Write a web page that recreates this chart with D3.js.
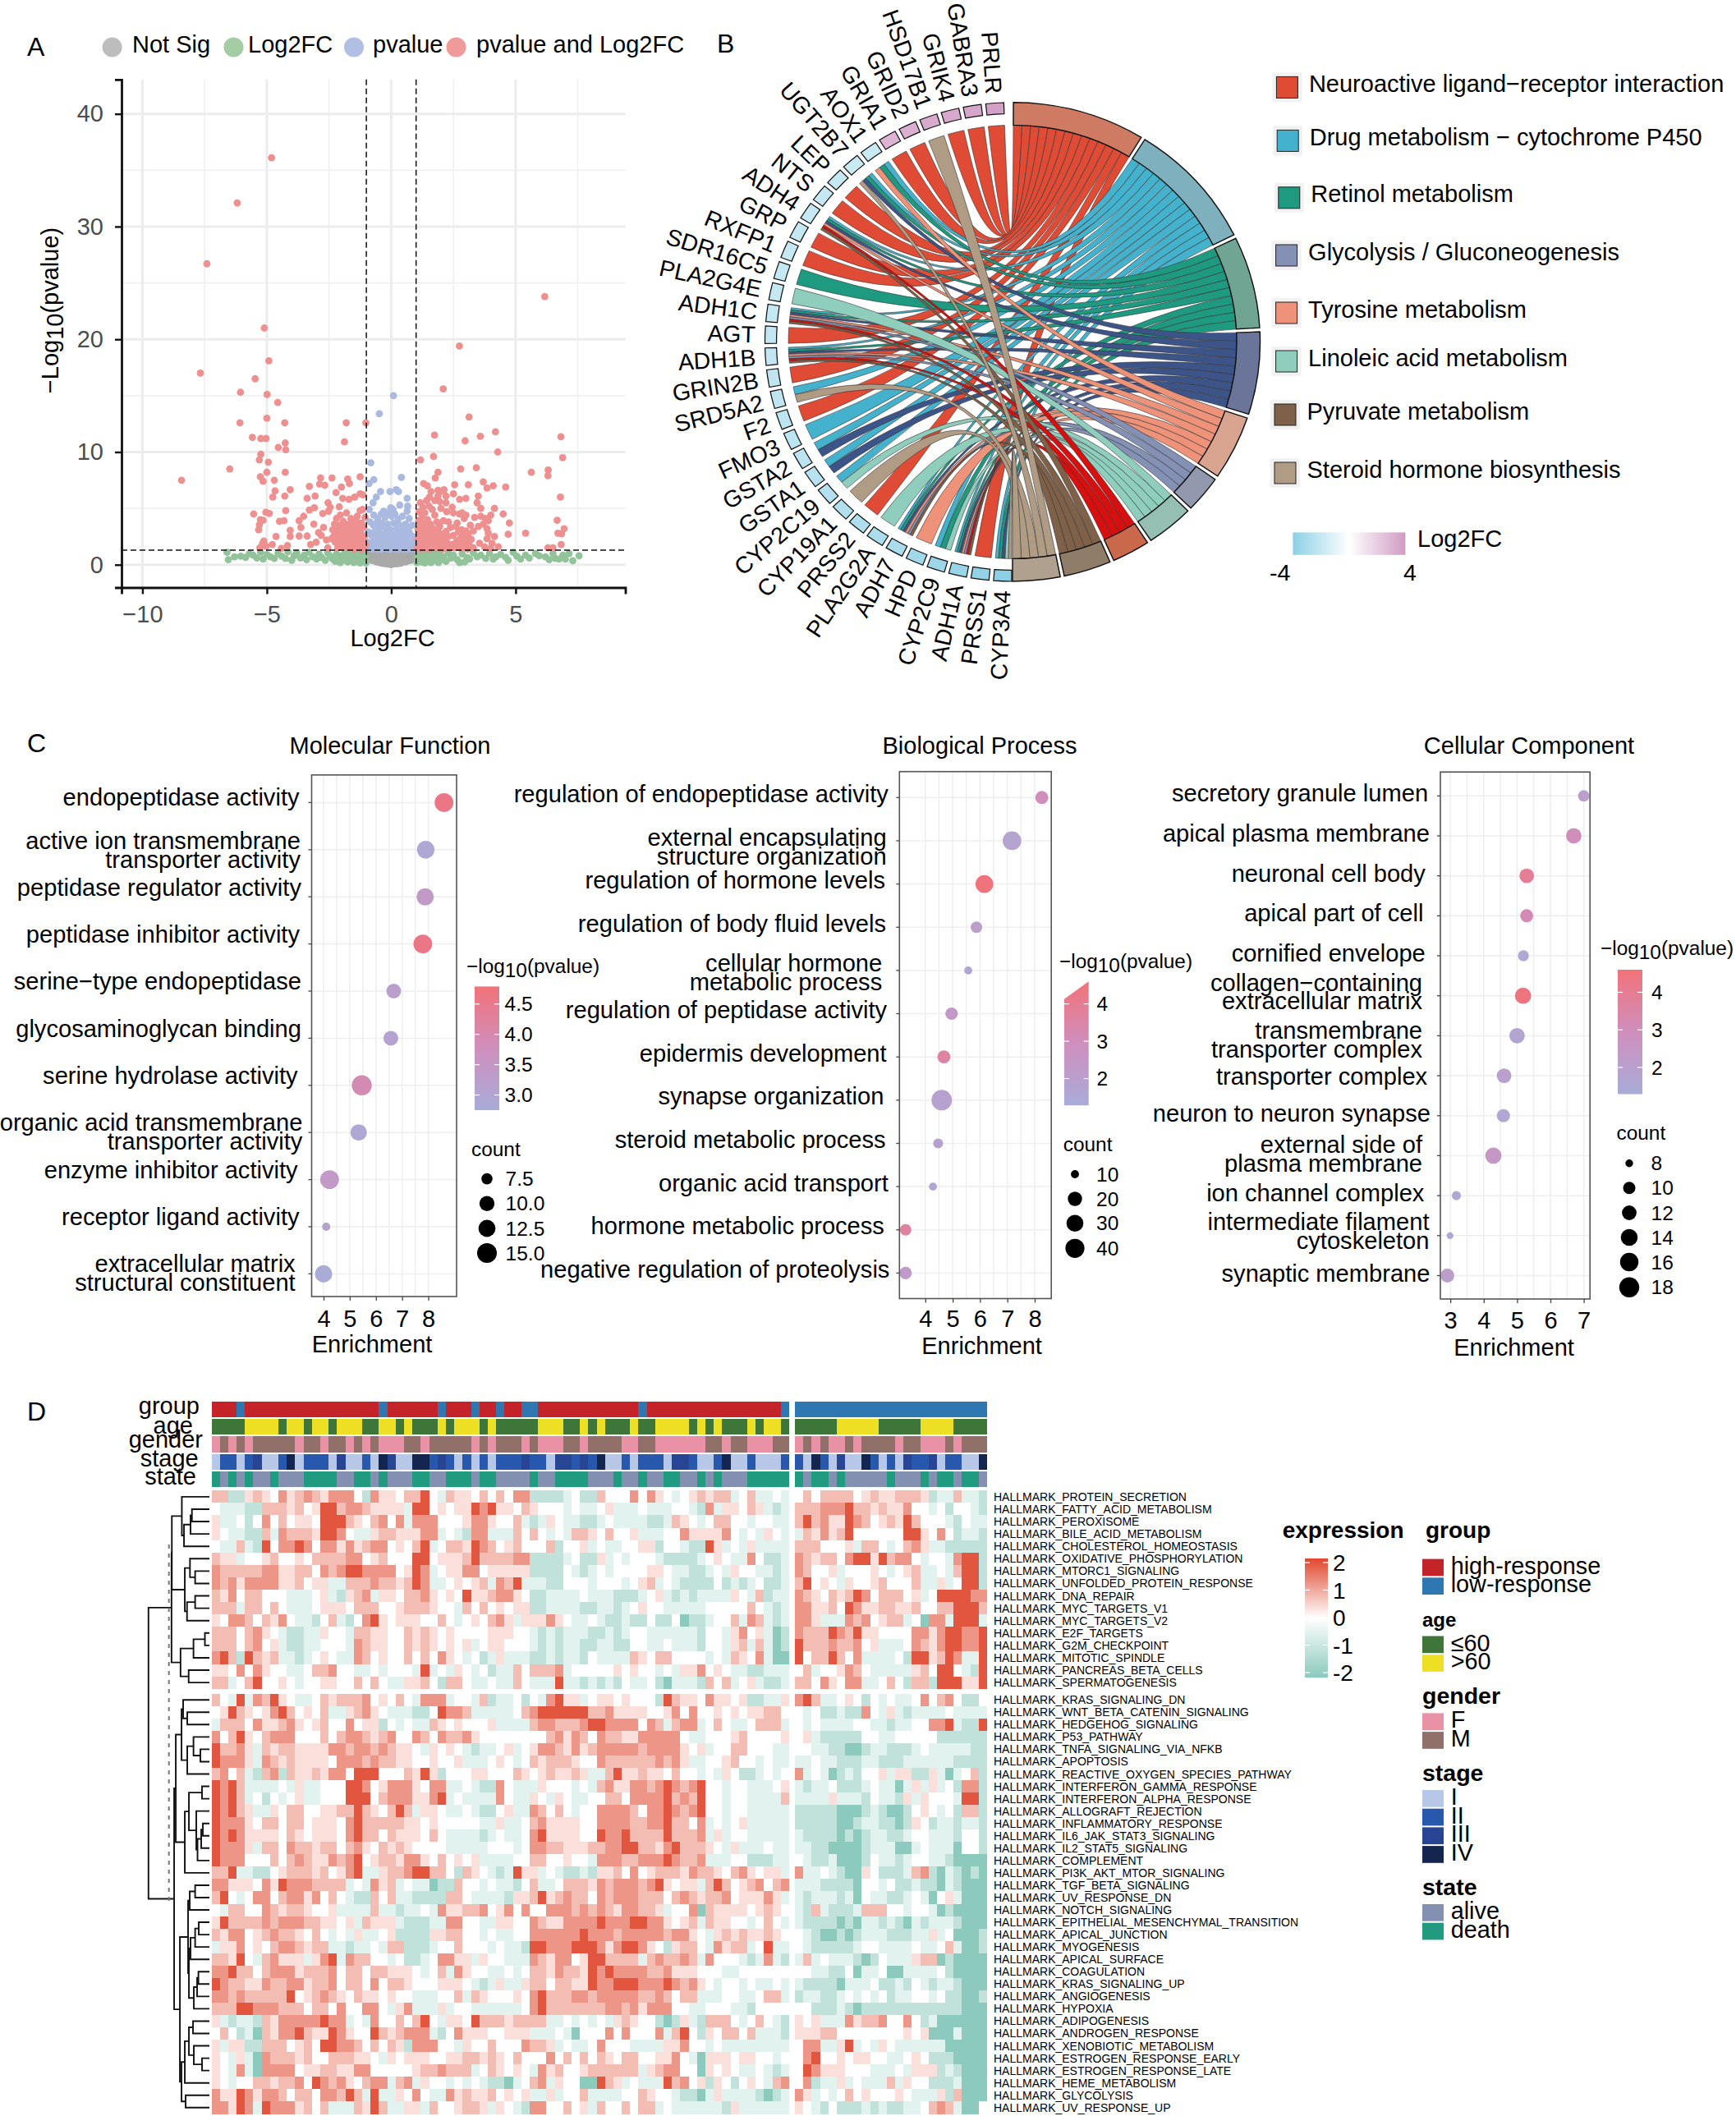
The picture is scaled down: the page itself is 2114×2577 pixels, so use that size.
<!DOCTYPE html>
<html>
<head>
<meta charset="utf-8">
<script src="https://cdn.jsdelivr.net/npm/d3@7"></script>
<style>
body { margin:0; background:#fff; }
text { font-family:"Liberation Sans",Arial,sans-serif; fill:#000; }
</style>
</head>
<body>
<svg id="fig" width="2114" height="2577"></svg>
<script>
// ---------- panel A data: [log2fc, -log10 p]
var volcanoRed=[[-4.81,36.1],[-6.19,32.1],[-7.41,26.7],[6.17,23.8],[-5.1,21],[2.74,19.4],[-4.92,18.1],[-7.67,17],[-5.47,16.5],[2.09,15.6],[-6.06,15.3],[-4.99,15.1],[-4.56,14.4],[3.13,13.1],[-5,13],[-6.08,12.6],[-4.28,12.6],[-1.81,12.6],[-1.02,12.6],[4.19,11.8],[1.74,11.5],[6.82,11.35],[3.58,11.4],[-5.58,11.3],[-5.24,11.2],[-5.03,11.2],[2.97,11],[-4.26,10.8],[-1.88,10.9],[-4.54,10.4],[-4.24,10.2],[4.28,10],[-5.24,9.8],[1.7,9.6],[6.89,9.5],[1.18,9.3],[-5.3,9.3],[-4.94,9.1],[-6.49,8.5],[2.79,8.5],[3.42,8.6],[6.31,8.4],[-5,8.2],[-4.26,8.2],[1.88,8.2],[5.63,8.2],[6.3,7.9],[-8.43,7.5],[-5.26,7.8],[-4.7,7.5],[-5.15,7.4],[-2.84,7.7],[-2.38,7.7],[-1.75,7.6],[-1.25,7.8],[1.77,7.7],
[-3.29,6.95],[-2.88,7.15],[-2.67,7.05],[-2.22,6.4],[-2,6.9],[-1.68,7.2],[-4.06,6.65],[-4.67,6.55],[-4.28,6.1],[-4.76,6],[-3.38,5.9],[-3.06,6.1],[-2.54,5.5],[-1.95,5.9],[-1.7,5.8],[-1.47,6],[-1.25,6.3],[-1.14,6.2],[-5.53,4.5],[-5.04,4.65],[-4.9,4.55],[-4.24,4.8],[-5.26,4],[-5.15,3.95],[-4.49,3.85],[-4.31,3.9],[-5.3,3.55],[-5.33,3.1],[-3.7,3.9],[-3.52,4.3],[-3.29,4.85],[-3.09,5.05],[-2.75,4.55],[-2.45,5.1],[-2.52,4.75],[-2.09,5.15],[-4.06,3.05],[-3.63,3.3],[-3.11,3.6],[-3.7,2.55],[-3.38,2.55],[-4.63,2.5],[-4.06,2.5],[-2.92,2.85],[-2.81,2.6],[-3.24,1.8],[-3.02,2],[-5.12,2.1],[-5.17,1.9],[-5.03,1.65],[-4.78,1.8],[-5.28,1.5],[-4.42,1.45],[-4.17,1.7],[-2.6,2.2],[-2.72,3.3],[-2.55,1.5],
[-2.35,3.1],[-2.3,2.6],[-2.28,3.6],[-2.25,2],[-2.2,4.1],[-2.18,3],[-2.15,2.4],[-2.12,1.7],[-2.1,3.5],[-2.08,2.85],[-2.05,4.4],[-2.03,2.2],[-2,3.15],[-1.97,1.55],[-1.95,2.65],[-1.93,3.85],[-1.9,2.05],[-1.88,3.3],[-1.85,1.8],[-1.83,2.5],[-1.8,4.6],[-1.78,3],[-1.75,2.25],[-1.72,1.5],[-1.7,3.6],[-1.68,2.75],[-1.65,1.95],[-1.62,4.1],[-1.6,3.2],[-1.57,2.4],[-1.55,1.65],[-1.52,2.95],[-1.5,4],[-1.47,2.15],[-1.45,3.5],[-1.42,1.45],[-1.4,2.6],[-1.37,4.3],[-1.35,1.9],[-1.32,3.1],[-1.3,2.35],[-1.27,1.6],[-1.25,4.8],[-1.22,2.8],[-1.2,3.7],[-1.18,2.05],[-1.15,4.9],[-1.12,1.5],[-1.1,3.35],[-1.08,2.5],[-1.05,4.2],[-1.03,1.8],[-2.4,2.3],[-2.25,2.9],[-2.15,1.5],[-2,2.5],[-1.9,1.6],[-1.8,3.5],[-1.65,3.3],[-1.5,1.4],[-1.38,3.8],[-1.25,3.3],[-1.2,1.35],
[1.05,1.5],[1.07,2.3],[1.08,3.1],[1.1,3.9],[1.12,4.7],[1.13,1.9],[1.15,2.7],[1.17,5.5],[1.18,3.5],[1.2,1.4],[1.22,2.2],[1.24,4.3],[1.25,3],[1.27,5.1],[1.28,1.7],[1.3,2.5],[1.32,3.7],[1.34,1.45],[1.35,4.6],[1.37,2.9],[1.38,2.05],[1.4,3.3],[1.42,5.7],[1.44,1.6],[1.46,4],[1.48,2.4],[1.5,3.1],[1.52,1.4],[1.54,6],[1.55,2.1],[1.57,3.6],[1.6,2.75],[1.62,1.55],[1.65,4.9],[1.68,2.3],[1.7,3.2],[1.72,1.8],[1.75,4.4],[1.78,2.6],[1.8,1.45],[1.83,3.8],[1.85,2.1],[1.88,6.1],[1.9,2.9],[1.92,1.6],[1.95,3.4],[1.98,2.3],[2,5],[2.03,1.85],[2.05,2.7],[2.08,1.4],[2.1,3.9],[2.13,2.2],[2.16,1.65],[2.2,2.95],[2.23,4.7],[2.26,1.9],[2.3,2.5],[2.34,1.45],[2.38,3.3],
[2.45,1.8],[2.5,2.6],[2.55,1.5],[2.6,3.4],[2.63,2.1],[2.67,1.65],[2.7,2.9],[2.74,4.5],[2.77,2.3],[2.8,1.45],[2.83,3.1],[2.86,1.9],[2.9,2.55],[2.93,4.1],[2.96,1.55],[3,3],[3.03,2.15],[3.07,1.4],[3.1,2.7],[3.14,1.75],[3.18,3.5],[3.22,2.25],[3.3,1.5],[1.3,7.2],[1.45,7],[1.6,6.5],[1.88,6.6],[1.98,6.5],[2.12,6.65],[2.2,5.5],[2.5,6.3],[2.55,7.1],[2.75,5.8],[3.0,5.9],[3.1,7.1],[3.5,6.1],[3.7,7.35],[3.85,6.8],[4.1,7],[4.6,6.9],[2.2,6.1],[2.85,4.6],[3.0,4.4],[3.35,4.2],[3.45,5.5],[3.6,5],[3.6,4.3],[3.78,4.1],[3.9,3.9],[4,4.4],[4.15,5],[4.5,4.5],[4.75,3.7],[3.5,3.4],[3.7,3.6],[3.85,3.2],[3.9,2.8],[4.15,2.5],[4.05,1.9],[3.85,2.3],[3.55,1.9],[3.75,1.6],[4.0,1.45],[4.3,1.6],[4.7,2.7],[5.4,2.8],[6.67,3.95],[6.95,3.2],[6.7,2.8],[6.85,2.75],[6.83,1.8],[6.3,1.5],[6.5,1.5],[6.8,6],[2.45,5.1],[2.3,3.8],[2.5,4.6],[2.65,3.7],[3.3,3.0],[1.52,5.2],[1.75,5.7],[1.95,5.6]];
var volcanoBlue=[[0.09,15],[-0.48,13.4],[-0.82,9.05],[0.41,7.75],[-0.7,7.55],[-0.89,7.2],[0.2,6.65],[-0.05,6.5],[-0.43,6.5],[0.29,6.5],[-0.6,6],[-0.73,5.5],[0.64,5.9],[0.34,5.3],[0.66,5.2],[-0.02,5.05],[0.07,4.9],[-0.3,4.75],[0.64,4.75],[-0.88,4.9],[-0.7,4.4],[-0.55,4.1],[-0.4,4.5],[-0.25,4.2],[-0.12,4.6],[0.02,4.3],[0.15,4.5],[0.28,4.05],[0.45,4.3],[0.72,4.1],[-0.85,3.8],[-0.72,3.5],[-0.62,3.6],[-0.5,3.2],[-0.38,3.7],[-0.27,3.3],[-0.15,3.6],[-0.03,3.1],[0.1,3.7],[0.22,3.2],[0.33,3.5],[0.46,3.1],[0.57,3.6],[0.7,3.2],[0.85,3.5],[-0.92,2.9],[-0.8,2.6],[-0.68,2.9],[-0.57,2.5],[-0.46,2.8],[-0.34,2.4],[-0.22,2.8],[-0.1,2.4],[0.03,2.7],[0.14,2.35],[0.26,2.75],[0.38,2.4],[0.5,2.8],[0.62,2.45],[0.74,2.8],[0.88,2.5],[-0.94,2],[-0.82,1.75],[-0.7,2.1],[-0.6,1.7],[-0.48,2],[-0.36,1.65],[-0.25,2],[-0.13,1.7],[0,2],[0.12,1.7],[0.24,2],[0.36,1.7],[0.47,2.05],[0.6,1.7],[0.72,2],[0.84,1.75],[0.95,2],[-0.9,1.45],[-0.75,1.4],[-0.55,1.4],[-0.4,1.38],[-0.2,1.42],[-0.05,1.38],[0.15,1.42],[0.3,1.38],[0.5,1.4],[0.65,1.38],[0.82,1.42],[0.95,1.4]];
var volcanoGreen=[[-6.6,1.1],[-6.55,0.45],[-6.3,0.7],[-6.05,0.75],[-5.85,0.65],[-5.7,1],[-5.55,0.85],[-5.4,0.6],[-5.25,1.1],[-5.15,0.5],[-5,0.9],[-4.85,0.7],[-4.7,0.55],[-4.55,1],[-4.4,0.75],[-4.25,0.55],[-4.15,1.15],[-4,0.4],[-3.9,0.8],[-3.8,1.05],[-3.65,0.6],[-3.5,0.85],[-3.4,0.45],[-3.3,1.1],[-3.15,0.7],[-3,0.5],[-2.9,0.95],[-2.8,0.65],[-2.65,0.4],[-2.55,1.05],[-2.45,0.75],[-2.35,0.5],[-2.25,0.3],[-2.2,0.95],[-2.12,0.6],[-2.05,0.2],[-2,0.8],[-1.92,0.4],[-1.85,1.1],[-1.8,0.6],[-1.75,0.25],[-1.68,0.9],[-1.62,0.45],[-1.55,0.7],[-1.5,0.2],[-1.45,1.05],[-1.4,0.55],[-1.35,0.3],[-1.3,0.85],[-1.25,0.15],[-1.2,0.6],[-1.15,1.15],[-1.1,0.35],[-1.05,0.8],[-1.02,0.15],
[1.03,0.2],[1.05,0.75],[1.1,0.4],[1.15,1.1],[1.2,0.25],[1.25,0.6],[1.3,0.9],[1.35,0.15],[1.4,0.45],[1.45,1],[1.5,0.3],[1.55,0.7],[1.6,0.2],[1.65,0.5],[1.7,1.1],[1.75,0.35],[1.8,0.8],[1.85,0.55],[1.9,0.2],[1.95,0.95],[2,0.45],[2.1,0.7],[2.2,0.3],[2.3,1.05],[2.4,0.6],[2.5,0.85],[2.65,0.45],[2.75,0.2],[2.85,0.95],[2.95,0.25],[3.05,0.65],[3.15,0.5],[3.3,1.05],[3.45,0.7],[3.6,0.85],[3.8,0.55],[3.95,1],[4.1,0.5],[4.2,0.7],[4.4,0.9],[4.6,0.65],[4.7,0.4],[4.9,1.1],[5.05,0.75],[5.2,0.5],[5.4,0.85],[5.55,0.6],[5.8,1],[5.95,0.8],[6.2,0.7],[6.35,0.45],[6.5,1],[6.6,0.55],[6.75,0.5],[6.9,0.85],[7,0.5],[7.15,1],[7.3,0.35],[7.55,0.8]];
var volcanoGrey=[[-0.98,0.6],[-0.95,1.1],[-0.92,0.8],[-0.88,0.5],[-0.85,1],[-0.82,0.7],[-0.78,0.4],[-0.75,1.15],[-0.72,0.8],[-0.68,0.35],[-0.65,0.6],[-0.62,1],[-0.58,0.25],[-0.55,0.75],[-0.52,0.45],[-0.48,1.1],[-0.45,0.2],[-0.42,0.6],[-0.38,0.9],[-0.35,0.12],[-0.32,0.4],[-0.28,0.75],[-0.25,1.15],[-0.22,0.08],[-0.18,0.5],[-0.15,0.9],[-0.12,0.25],[-0.08,0.05],[-0.05,0.65],[-0.02,1.05],[0,0.02],[0.02,0.35],[0.05,0.8],[0.08,0.06],[0.12,0.5],[0.15,1.1],[0.18,0.2],[0.22,0.08],[0.25,0.7],[0.28,0.4],[0.32,1],[0.35,0.12],[0.38,0.55],[0.42,0.2],[0.45,0.85],[0.48,1.15],[0.52,0.3],[0.55,0.7],[0.58,0.25],[0.62,1],[0.65,0.45],[0.68,0.35],[0.72,0.8],[0.75,1.1],[0.78,0.4],[0.82,0.7],[0.85,1],[0.88,0.5],[0.92,0.85],[0.95,1.12],[0.98,0.6]];
var volcanoLegend=["Not Sig","Log2FC","pvalue","pvalue and Log2FC"];
var volcanoXTicks=[-10,-5,0,5];
var volcanoYTicks=[0,10,20,30,40];

// ---------- panel B data
var pathwayNames=["Neuroactive ligand\u2212receptor interaction","Drug metabolism \u2212 cytochrome P450","Retinol metabolism","Glycolysis / Gluconeogenesis","Tyrosine metabolism","Linoleic acid metabolism","Pyruvate metabolism","Steroid hormone biosynthesis"];
// clockwise from the bottom of the circle
var geneNames=["CYP3A4","PRSS1","ADH1A","CYP2C9","HPD","ADH7","PLA2G2A","PRSS2","CYP19A1","CYP2C19","GSTA1","GSTA2","FMO3","F2","SRD5A2","GRIN2B","ADH1B","AGT","ADH1C","PLA2G4E","SDR16C5","RXFP1","GRP","ADH4","NTS","LEP","UGT2B7","AOX1","GRIA1","GRID2","HSD17B1","GRIK4","GABRA3","PRLR"];
var geneLog2FC=[-4,-3.8,-3.6,-3.5,-3.3,-3,-2.9,-2.8,-2.7,-2.6,-2.5,-2.4,-2.3,-2.3,-2.2,-2.2,-2.1,-2.1,-2,-2,-2,-2,-2,-2,-2,-2,-1.9,-1.9,3,3.2,3.4,3.5,3.6,3.8];
// which ring segments each gene links to (0-9, ring order clockwise from the top)
var geneLinks=[[1,2,3,6,9],[0],[1,2,3,4,5,7,8],[1,2,6],[4],[1,2,3,4,5,8],[6],[0],[9],[1,6],[1,3],[1,3],[1],[0],[1,9],[0],[1,2,3,4,5,7,8],[0],[1,2,3,4,5,7,8],[6],[2],[0],[0],[1,2,3,4,7,8],[0],[0],[1,2,3,9],[1,2,4],[0],[0],[9],[0],[0],[0]];
var ringFill=["#e04b35","#45b2cd","#1d9a80","#3c5488","#ee937a","#8491b4","#8fcdbd","#d80f0f","#7e6148","#b09c85"];
var ringShade=["#cf7a62","#7fb0be","#6fa592","#6b7499","#d9a48f","#9298ad","#95bfb2","#c9684a","#8f7c69","#b0a08e"];
var legendRingIndex=[0,1,2,5,4,6,8,9];

// ---------- panel C data
var mfTerms=["endopeptidase activity","active ion transmembrane\ntransporter activity","peptidase regulator activity","peptidase inhibitor activity","serine\u2212type endopeptidase","glycosaminoglycan binding","serine hydrolase activity","organic acid transmembrane\ntransporter activity","enzyme inhibitor activity","receptor ligand activity","extracellular matrix\nstructural constituent"];
var mfEnrich=[8.6,7.9,7.88,7.79,6.68,6.57,5.46,5.34,4.23,4.1,4.0];
var mfCount=[14.1,13,12.7,14.1,9.8,9.8,15.3,11.7,14.1,5.6,12.7];
var mfLogP=[4.6,2.9,3.4,4.6,3.2,3.05,3.9,2.9,3.4,3.1,2.8];
var bpTerms=["regulation of endopeptidase activity","external encapsulating\nstructure organization","regulation of hormone levels","regulation of body fluid levels","cellular hormone\nmetabolic process","regulation of peptidase activity","epidermis development","synapse organization","steroid metabolic process","organic acid transport","hormone metabolic process","negative regulation of proteolysis"];
var bpEnrich=[8.26,7.17,6.16,5.87,5.57,4.96,4.68,4.6,4.47,4.28,3.28,3.28];
var bpCount=[18,38,34,15.5,10,17,18,47,13,10,15.5,17];
var bpLogP=[3,1.8,4.5,2.1,1.7,2.4,3.6,1.9,1.9,1.7,3.7,2.3];
var ccTerms=["secretory granule lumen","apical plasma membrane","neuronal cell body","apical part of cell","cornified envelope","collagen\u2212containing\nextracellular matrix","transmembrane\ntransporter complex","transporter complex","neuron to neuron synapse","external side of\nplasma membrane","ion channel complex","intermediate filament\ncytoskeleton","synaptic membrane"];
var ccEnrich=[7,6.7,5.29,5.29,5.19,5.18,5,4.61,4.59,4.29,3.18,2.99,2.91];
var ccCount=[9.6,12.7,12,10.7,9.4,13.4,12.7,12,10.7,13.4,8.6,7.6,11.3];
var ccLogP=[2,3,3.9,3.2,1.6,4.5,1.7,2,1.6,2.5,1.6,1.6,2.1];

// ---------- panel D data
var heatTerms=["PROTEIN_SECRETION","FATTY_ACID_METABOLISM","PEROXISOME","BILE_ACID_METABOLISM","CHOLESTEROL_HOMEOSTASIS","OXIDATIVE_PHOSPHORYLATION","MTORC1_SIGNALING","UNFOLDED_PROTEIN_RESPONSE","DNA_REPAIR","MYC_TARGETS_V1","MYC_TARGETS_V2","E2F_TARGETS","G2M_CHECKPOINT","MITOTIC_SPINDLE","PANCREAS_BETA_CELLS","SPERMATOGENESIS","KRAS_SIGNALING_DN","WNT_BETA_CATENIN_SIGNALING","HEDGEHOG_SIGNALING","P53_PATHWAY","TNFA_SIGNALING_VIA_NFKB","APOPTOSIS","REACTIVE_OXYGEN_SPECIES_PATHWAY","INTERFERON_GAMMA_RESPONSE","INTERFERON_ALPHA_RESPONSE","ALLOGRAFT_REJECTION","INFLAMMATORY_RESPONSE","IL6_JAK_STAT3_SIGNALING","IL2_STAT5_SIGNALING","COMPLEMENT","PI3K_AKT_MTOR_SIGNALING","TGF_BETA_SIGNALING","UV_RESPONSE_DN","NOTCH_SIGNALING","EPITHELIAL_MESENCHYMAL_TRANSITION","APICAL_JUNCTION","MYOGENESIS","APICAL_SURFACE","COAGULATION","KRAS_SIGNALING_UP","ANGIOGENESIS","HYPOXIA","ADIPOGENESIS","ANDROGEN_RESPONSE","XENOBIOTIC_METABOLISM","ESTROGEN_RESPONSE_EARLY","ESTROGEN_RESPONSE_LATE","HEME_METABOLISM","GLYCOLYSIS","UV_RESPONSE_UP"];
// one digit per cell, 69 left samples | 23 right samples; digit meaning in heatLevels
var heatRows=[
"6622565475 6765777427 5546684365 5464647722 2234226444 7475434565 663463343|4646666456 5566652336 332",
"4333226665 6458867765 5553884545 5878554654 4434334533 3433344327 355465323|6667778665 6557443424 432",
"5334247464 5548886546 7473777444 5775446323 5433223433 3322365434 664434433|6867558764 5658644432 433",
"5433226376 6658874335 6655577343 2773336464 3436654644 5333447555 574343543|3657568444 4448854742 332",
"4336328477 8747757567 7454683466 5876456444 6244534334 4552443228 534353333|6664445366 4346753322 222",
"6553445644 5466667745 6444884555 6866667722 2234225343 4443222234 543374223|7656647885 8677434437 882",
"7666667755 6647678877 7745873455 7745555522 2243234344 4455433223 435443323|7644534445 4345633436 882",
"7675777755 6455336667 6656873345 4563768333 2244434443 4563432222 423234223|6845435445 6444633534 882",
"6574664443 3345325673 5546675454 8556775422 3333433322 2345323233 335436233|7654656874 6664534888 877",
"6663664643 3345554666 4456665443 6464545522 3333223323 4544333334 444464323|7755648755 6655644668 886",
"5477646574 3324632478 5455544643 4546753555 7543343223 2242241223 446376323|7753337674 5663417738 883",
"6664675432 2335443665 5446565454 4445554432 3233322323 4433333324 435745312|7666876855 4444775788 778",
"6664674532 2334443765 5446565454 5345544432 3233223322 4433433324 435636312|8666766745 3334765788 778",
"7862865633 2345433764 5446464754 3423533322 3233243333 6546644443 436547311|8466864733 3342885687 338",
"5547475443 3466744334 3444383435 4342336466 6734444454 5443435574 543322333|4634457643 3333564884 328",
"6634684454 3445544646 4335564266 4334336433 3833232324 3342133326 463453223|6647547733 4642662888 558",
"6438376854 3346566674 5464377734 4362334243 7855345545 4442865547 554522335|7863345424 3433474674 224",
"4586545786 4546335675 4333224877 6333334678 8888866755 5544574744 545455664|4342232274 3532333343 333",
"3666475567 5456447455 2434336545 4445333367 7666788777 7476367734 643346663|4343333443 3233447783 228",
"7468546777 4446467765 6744764766 7544444444 6757647665 5777774334 445644445|4532222244 3344444222 222",
"8667536566 5555776776 7655435454 3233453457 7657567777 7677775453 446644433|4433221123 3222343333 322",
"8777537656 5555477767 6655445445 3334543465 6665447666 6667675334 456443433|3343322233 2223333332 222",
"6746326726 5565774888 4446585244 4554446545 6556533685 5655464434 354223434|7343123244 5355225313 462",
"8786333343 5334448874 5777547733 4322743335 4443436755 7767876784 434433345|3233422234 3313535342 772",
"8786342434 5334448884 6777557834 3333743354 3543344664 7777867684 434433336|3333533324 3325354443 882",
"8786533546 6445566865 4686355433 4322453376 4643447777 6477876784 434433333|2222211123 2112454342 662",
"8777546646 6455547866 6665545444 4433533467 5555447777 6677866473 434533333|2222211233 2212542332 332",
"8787555546 5455547866 4655546433 3323433478 5555448778 6666866673 534433333|3222212123 3223443332 442",
"8777536647 6656646754 6565444433 3334443477 6655566778 8665786665 435333433|3322111123 3311343331 442",
"8777444646 7655767845 6657754645 4533334466 4454437776 6777876673 334422233|4322311124 3323443321 111",
"6683322456 6656457833 5667886642 6543238553 4322325564 7456665766 546754553|7334321154 2223672132 121",
"7755547587 7766663437 5634331226 4434332463 3466657677 7678545536 864567467|3332222144 3422322132 111",
"6843477467 7574643226 4633222266 4333325568 5676647677 7666467656 674555753|3233323143 3223431453 111",
"4366447656 6544533336 3323343755 6674574744 7776767657 7665344716 555545654|3263222366 6443443121 111",
"5866667677 7665545365 5532223377 4433554476 5577778777 8877545636 554434643|3222212133 2321323332 111",
"6577456766 5464343533 4522225566 4434334477 7777877767 7777677543 565655654|4321121233 3222335341 112",
"3557454677 6566332334 3662223446 4443433288 7778887578 8754256643 756634833|4322222344 3333433463 112",
"6658436755 5357837664 4342234775 5354433376 5774588666 6367667637 444323732|3634333212 4333566121 111",
"7786646777 5666746646 6555434637 5443343466 5766587877 7766755544 433444444|4433224133 4113333421 111",
"8766557667 7566746647 4665444555 4323533566 4665587788 8777876754 344343343|3222213334 2232432332 111",
"7767666668 4567654655 4544333446 3654445478 6667767777 7667646633 344334663|2332234343 4233443422 112",
"6668877766 6466474477 4357333534 4333333478 6666666776 7577744334 443324444|4422232122 2222222222 111",
"5323326577 7778773437 4464684355 4866656666 3343434356 5442125326 664346432|5453337566 7447423111 111",
"4642316577 8655875448 6567773247 5554455533 3431444747 4447368425 466463332|5556644444 4445451113 111",
"5355226664 5648877646 4652777443 5446444766 5343347444 3333557443 433333333|4773358343 5433333311 111",
"5435317666 5644666554 3545554455 6656546444 7464646546 6445574315 554554434|4784454554 4334542221 111",
"5437317777 4556655774 4444566766 6346545437 5644566666 6356774415 454334323|4875554443 3343555232 111",
"5434466566 7487675467 7367354434 3432213467 3544118653 4333867452 542454367|4723353433 3635442223 111",
"7558757764 6647768638 3354743375 6556454533 5344633334 4654432213 533332123|7534346454 4454333526 111",
"7758738777 5646333658 6335536445 6653543277 4464536446 4663433333 325333333|5432422232 3223346763 114"
];
var heatLevels=[-2,-2,-1.1,-0.5,0,0.35,0.72,1.15,1.85];
// annotation tracks, one letter per sample
var trackNames=["group","age","gender","stage","state"];
var trackRows=[
"HHHLHHHHHH HHHHHHHHHH LHHHHHHLHH HLHHLHHLLH HHHHHHHHHH HLHHHHHHHH HHHHHHHHL|LLLLLLLLLL LLLLLLLLLL LLL",
"GGGGYYYYGY YGYYGYYYGG YYGYGGGYGY YYGYGGGGGY YYGGYGYGGG YGGYYYYGYG YGGGYGYYG|GGGGGYYYYY GGGGGYYYYG GGG",
"FMFMFMMMMM FMMFMMFMFM FFFMMFMMMM MFMFMMMFMF FFMMFMMMMF FMMFFFFFFM MFMMFFFMM|FMFMFFMFMM MMFMMFFFMF MMM",
"1221231124 1222131121 4311442321 2121222322 1332324112 1222133211 241121112|2142131142 1213223122 114",
"DADADAADAA ADDDDAADDA DAAADDAADD DADDAAAADA ADDDDAAADA ADAADDAADA DAAADDDDD|DADDADAAAA ADAAADADDA DDA"
];
var trackColors={H:"#c42429",L:"#2e77b0",G:"#3e7538",Y:"#ede024",F:"#e991a5",M:"#907068","1":"#b6c7e8","2":"#2858ad","3":"#274592","4":"#14264f",A:"#8390b2",D:"#209b80"};
var legendGroups=[
 {title:"group",keys:[["high-response","H"],["low-response","L"]]},
 {title:"age",keys:[["\u226460","G"],[">60","Y"]]},
 {title:"gender",keys:[["F","F"],["M","M"]]},
 {title:"stage",keys:[["I","1"],["II","2"],["III","3"],["IV","4"]]},
 {title:"state",keys:[["alive","A"],["death","D"]]}
];
// row dendrogram, node = [height, left, right], leaf = row number
var treeUpper=[45.8,[33.6,0,[31,[23,[21.3,1,2],3],4]],[30,[23.7,5,[17.4,6,7]],[27.3,[17.4,8,9],10]]];
var treeBlockA=[46.2,treeUpper,[35.2,[19.4,[5.5,11,12],13],[25.3,14,15]]];
var treeSubA=[41,[34,[32,16,[27,17,18]],[27,[19.4,19,[11,20,21]],22]],[30,[25,[9,23,24],[16,25,[14.5,[10,[8,26,27],28],29]]],30]];
var treeSubB=[26,[24,[17.4,31,32],33],[25,[23,[17.4,[13,34,35],36],37],[19,[15,[13.4,38,39],40],41]]];
var treeSubC=[34,[30,[25,[20,42,43],[19,44,[9,45,46]]],47],[29,48,49]];
var treeBlockB=[43,treeSubA,[36,treeSubB,treeSubC]];
var treeRoot=[74.3,treeBlockA,treeBlockB];

// ---------- helpers
var svg=d3.select("#fig");
var defs=svg.append("defs");
function addText(g,x,y,t,size,opts) {
  opts=opts||{};
  return g.append("text").attr("x",x).attr("y",y).text(t)
    .style("font-size",size+"px")
    .style("font-weight",opts.bold?"bold":null)
    .style("fill",opts.fill||null)
    .attr("text-anchor",opts.anchor||"start");
}
function addGradient(id,colors,vertical) {
  var gr=defs.append("linearGradient").attr("id",id)
    .attr("x1",0).attr("y1",vertical?1:0).attr("x2",vertical?0:1).attr("y2",0);
  colors.forEach(function(c,i){ gr.append("stop").attr("offset",i/(colors.length-1)).attr("stop-color",c); });
}
function logTitle(g,x,y,size,word) {
  var t=g.append("text").attr("x",x).attr("y",y).style("font-size",size+"px");
  t.append("tspan").text(word);
  t.append("tspan").attr("dy",size*0.22).text("10");
  t.append("tspan").attr("dy",-size*0.22).text("(pvalue)");
  return t;
}

addText(svg,33,68,"A",32);
addText(svg,873,64,"B",32);
addText(svg,33,916,"C",32);
addText(svg,33,1730,"D",32);

// ---------- A: volcano
function drawVolcano() {
  var g=svg.append("g");
  var x=d3.scaleLinear().domain([-10.84,9.41]).range([148,761.5]);
  var y=d3.scaleLinear().domain([-2.02,43.05]).range([715.5,96.8]);
  [-7.5,-2.5,2.5,7.5].forEach(function(v){
    g.append("line").attr("x1",x(v)).attr("x2",x(v)).attr("y1",96.8).attr("y2",715.5).attr("stroke","#f0f0f0").attr("stroke-width",1.6);
  });
  [5,15,25,35].forEach(function(v){
    g.append("line").attr("y1",y(v)).attr("y2",y(v)).attr("x1",148).attr("x2",761.5).attr("stroke","#f0f0f0").attr("stroke-width",1.6);
  });
  volcanoXTicks.forEach(function(v){
    g.append("line").attr("x1",x(v)).attr("x2",x(v)).attr("y1",96.8).attr("y2",715.5).attr("stroke","#ececec").attr("stroke-width",3);
  });
  volcanoYTicks.forEach(function(v){
    g.append("line").attr("y1",y(v)).attr("y2",y(v)).attr("x1",148).attr("x2",761.5).attr("stroke","#ececec").attr("stroke-width",3);
  });
  function dots(data,c) {
    g.append("g").selectAll("circle").data(data).enter().append("circle")
      .attr("cx",function(d){return x(d[0]);}).attr("cy",function(d){return y(d[1]);})
      .attr("r",4.4).attr("fill",c);
  }
  dots(volcanoGrey,"#a9a9a9");
  dots(volcanoGreen,"#92c39a");
  dots(volcanoBlue,"#aab9df");
  dots(volcanoRed,"#ee9090");
  [-1,1].forEach(function(v){
    g.append("line").attr("x1",x(v)).attr("x2",x(v)).attr("y1",96.8).attr("y2",715.5).attr("stroke","#111").attr("stroke-width",1.5).attr("stroke-dasharray","7 4");
  });
  g.append("line").attr("x1",148).attr("x2",761.5).attr("y1",y(1.3)).attr("y2",y(1.3)).attr("stroke","#111").attr("stroke-width",1.5).attr("stroke-dasharray","7 4");
  var ax=g.append("g").attr("transform","translate(0,715.5)").call(d3.axisBottom(x).tickValues(volcanoXTicks).tickSize(8).tickPadding(14));
  var ay=g.append("g").attr("transform","translate(148,0)").call(d3.axisLeft(y).tickValues(volcanoYTicks).tickSize(8).tickPadding(14));
  [ax,ay].forEach(function(a){
    a.selectAll("text").style("font-size","29px").style("fill","#4d4d4d").style("font-family",'"Liberation Sans"');
    a.selectAll("line").attr("stroke","#111").attr("stroke-width",2.4);
    a.select(".domain").attr("stroke","#111").attr("stroke-width",2.8);
  });
  addText(g,478,787,"Log2FC",29,{anchor:"middle"});
  var t=logTitle(g,0,0,29,"\u2212Log");
  t.attr("text-anchor","middle").attr("transform","translate(71,378) rotate(-90)");
  var cols=["#bdbdbd","#a4cda4","#b0bfe3","#f09a9a"],kx=[136.6,284.5,431,555.5],tx=[161,302,454,580];
  volcanoLegend.forEach(function(n,i){
    g.append("circle").attr("cx",kx[i]).attr("cy",57.5).attr("r",12).attr("fill",cols[i]);
    addText(g,tx[i],64,n,29);
  });
}
drawVolcano();

// ---------- B: chord
function drawChord() {
  var cx=1233,cy=416.4,sx=1.034;
  var g=svg.append("g").attr("transform","translate("+cx+","+cy+") scale("+sx+",1)");
  var rad=Math.PI/180,rIn=264,rOut=291.6,rTileIn=278;
  var geneStep=5.26,geneWide=4.2,geneStart=180.2;
  var ringGap=0.95;
  var nRing=ringFill.length;
  // count links per ring segment, slots run from the top gene down
  var ringCount=d3.range(nRing).map(function(){return 0;});
  geneLinks.forEach(function(l){ l.forEach(function(p){ ringCount[p]++; }); });
  var total=d3.sum(ringCount);
  var slotW=(180-(nRing-1)*ringGap-0.2)/total;
  var ringStart=[],pos=0.2;
  ringCount.forEach(function(c){ ringStart.push(pos); pos+=c*slotW+ringGap; });
  var links=[],used=d3.range(nRing).map(function(){return 0;});
  d3.range(geneNames.length-1,-1,-1).forEach(function(gi){
    var l=geneLinks[gi].slice().sort(d3.ascending);
    var s=geneStart+gi*geneStep,w=geneWide/l.length;
    l.forEach(function(p,k){
      var e0=s+geneWide-k*w;
      var s0=ringStart[p]+used[p]*slotW;
      links.push({p:p,a1:e0,a0:e0-w,s0:s0,s1:s0+slotW});
      used[p]++;
    });
  });
  links.sort(function(a,b){return a.p-b.p;});
  g.append("g").selectAll("path").data(links).enter().append("path")
    .attr("d",function(d){
      var p=d3.path(),off=-90;
      p.arc(0,0,rIn,(d.a0+off)*rad,(d.a1+off)*rad,false);
      var sa=(d.s0+off)*rad;
      p.quadraticCurveTo(0,0,rIn*Math.cos(sa),rIn*Math.sin(sa));
      p.arc(0,0,rIn,(d.s0+off)*rad,(d.s1+off)*rad,false);
      var ea=(d.a0+off)*rad;
      p.quadraticCurveTo(0,0,rIn*Math.cos(ea),rIn*Math.sin(ea));
      p.closePath();
      return p.toString();
    })
    .attr("fill",function(d){return ringFill[d.p];})
    .attr("stroke","#333").attr("stroke-width",0.6);
  var ringArc=d3.arc().innerRadius(rIn).outerRadius(rOut);
  g.append("g").selectAll("path").data(ringCount).enter().append("path")
    .attr("d",function(c,i){ return ringArc({startAngle:ringStart[i]*rad,endAngle:(ringStart[i]+c*slotW)*rad}); })
    .attr("fill",function(c,i){return ringShade[i];}).attr("stroke","#111").attr("stroke-width",1.4);
  var fc=d3.scaleLinear().domain([-4,0,4]).range(["#8dd0e6","#ffffff","#d19bc4"]);
  var tileArc=d3.arc().innerRadius(rTileIn).outerRadius(rOut);
  g.append("g").selectAll("path").data(geneNames).enter().append("path")
    .attr("d",function(n,i){ var s=geneStart+i*geneStep; return tileArc({startAngle:s*rad,endAngle:(s+geneWide)*rad}); })
    .attr("fill",function(n,i){return fc(geneLog2FC[i]);}).attr("stroke","#111").attr("stroke-width",1.2);
  // gene labels sit outside the scaled group so they keep their shape
  var lab=svg.append("g");
  geneNames.forEach(function(n,i){
    var th=geneStart+i*geneStep+geneWide/2;
    var r=303;
    var px=cx+sx*r*Math.sin(th*rad),py=cy-r*Math.cos(th*rad);
    lab.append("text").attr("text-anchor","end").attr("dominant-baseline","central")
      .attr("transform","translate("+px+","+py+") rotate("+(th-270)+")")
      .style("font-size","28.4px").text(n);
  });
  // legend
  var kx=[1554.4,1555.2,1556.8,1553.6,1553.6,1553.6,1552,1552];
  var ky=[93.4,158.4,227.8,298,368,427,492,563];
  pathwayNames.forEach(function(n,i){
    lab.append("rect").attr("x",kx[i]-5).attr("y",ky[i]-5).attr("width",36).attr("height",36).attr("fill","#f2f2f2");
    lab.append("rect").attr("x",kx[i]).attr("y",ky[i]).attr("width",26).attr("height",26).attr("fill",ringFill[legendRingIndex[i]]).attr("stroke","#222").attr("stroke-width",1);
    addText(lab,kx[i]+39.5,ky[i]+18.5,n,29);
  });
  addGradient("fcBar",["#8dd0e6","#ffffff","#d19bc4"],false);
  lab.append("rect").attr("x",1574.4).attr("y",648.4).attr("width",137).attr("height",27.4).attr("fill","url(#fcBar)");
  addText(lab,1726,666,"Log2FC",29);
  addText(lab,1546,707,"-4",28.5);
  addText(lab,1709,707,"4",28.5);
}
drawChord();

// ---------- C: dot plots
var dotColors=["#a9acd9","#cf8fbd","#f2727a"];
function drawDots(c) {
  var g=svg.append("g");
  var x=d3.scaleLinear().domain(c.xDomain).range([c.box[0],c.box[1]]);
  var y=d3.scalePoint().domain(d3.range(c.terms.length)).range([c.rowTop,c.rowBottom]);
  var col=d3.scaleLinear().domain(c.pDomain).range(dotColors);
  // radius follows the printed size legend
  var size=d3.scaleLinear().domain(c.sizeKey.values).range(c.sizeKey.radii);
  g.append("rect").attr("x",c.box[0]).attr("y",c.box[2]).attr("width",c.box[1]-c.box[0]).attr("height",c.box[3]-c.box[2]).attr("fill","#fff");
  var minor=d3.range(c.xTicks.length-1).map(function(i){return (c.xTicks[i]+c.xTicks[i+1])/2;});
  minor.concat(c.xTicks).forEach(function(v){
    g.append("line").attr("x1",x(v)).attr("x2",x(v)).attr("y1",c.box[2]).attr("y2",c.box[3]).attr("stroke","#eeeeee").attr("stroke-width",1.5);
  });
  c.terms.forEach(function(t,i){
    g.append("line").attr("x1",c.box[0]).attr("x2",c.box[1]).attr("y1",y(i)).attr("y2",y(i)).attr("stroke","#eeeeee").attr("stroke-width",1.5);
    g.append("line").attr("x1",c.box[0]-4).attr("x2",c.box[0]).attr("y1",y(i)).attr("y2",y(i)).attr("stroke","#444").attr("stroke-width",1.3);
    t.split("\n").forEach(function(line,k){
      addText(g,c.labelEnd[i],y(i)+c.labelDy[i]+k*c.lineGap,line,29.1,{anchor:"end"});
    });
  });
  g.append("g").selectAll("circle").data(c.terms).enter().append("circle")
    .attr("cx",function(d,i){return x(c.enrich[i]);}).attr("cy",function(d,i){return y(i);})
    .attr("r",function(d,i){return size(c.count[i]);}).attr("fill",function(d,i){return col(c.logP[i]);});
  g.append("rect").attr("x",c.box[0]).attr("y",c.box[2]).attr("width",c.box[1]-c.box[0]).attr("height",c.box[3]-c.box[2]).attr("fill","none").attr("stroke","#555").attr("stroke-width",1.6);
  var ax=g.append("g").attr("transform","translate(0,"+c.box[3]+")").call(d3.axisBottom(x).tickValues(c.xTicks).tickFormat(d3.format("d")).tickSize(5).tickPadding(c.tickPad));
  ax.select(".domain").remove();
  ax.selectAll("line").attr("stroke","#444").attr("stroke-width",1.3);
  ax.selectAll("text").style("font-size","29px").style("fill","#000").style("font-family",'"Liberation Sans"');
  addText(g,c.xTitle[0],c.xTitle[1],"Enrichment",29,{anchor:"middle"});
  addText(g,c.title[0],c.title[1],c.name,29,{anchor:"middle"});
  // colour bar
  var id="bar"+c.name.replace(" ","");
  addGradient(id,dotColors,true);
  var b=c.bar;
  if(c.barSlant) {
    g.append("path").attr("d","M"+b.x+","+b.bottom+"L"+b.x+","+c.barSlant+"L"+(b.x+b.w)+","+b.top+"L"+(b.x+b.w)+","+b.bottom+"Z").attr("fill","url(#"+id+")");
  } else {
    g.append("rect").attr("x",b.x).attr("y",b.top).attr("width",b.w).attr("height",b.bottom-b.top).attr("fill","url(#"+id+")");
  }
  var py=d3.scaleLinear().domain(b.domain).range([b.bottom,b.top]);
  b.ticks.forEach(function(v){
    g.append("line").attr("x1",b.x).attr("x2",b.x+6).attr("y1",py(v)).attr("y2",py(v)).attr("stroke","#fff").attr("stroke-width",1.2);
    g.append("line").attr("x1",b.x+b.w-6).attr("x2",b.x+b.w).attr("y1",py(v)).attr("y2",py(v)).attr("stroke","#fff").attr("stroke-width",1.2);
    addText(g,b.labelX,py(v)+8.5,b.format(v),24.5);
  });
  logTitle(g,b.titleX,b.titleY,24.4,"\u2212log");
  // size legend
  var s=c.sizeKey;
  addText(g,s.titleX,s.titleY,"count",24.4);
  s.values.forEach(function(v,i){
    g.append("circle").attr("cx",s.x).attr("cy",s.ys[i]).attr("r",s.radii[i]).attr("fill","#000");
    addText(g,s.labelX,s.ys[i]+8.5,s.format(v),24.5);
  });
}
var mfEnds=[752,755,757,753,757,757,748,760,748,752,742].map(function(v){return v/2.063;});
drawDots({name:"Molecular Function",terms:mfTerms,enrich:mfEnrich,count:mfCount,logP:mfLogP,
  box:[379.5,556,943.8,1579],xDomain:[3.545,9.08],xTicks:[4,5,6,7,8],rowTop:977.4,rowBottom:1551.4,
  pDomain:[2.75,3.77,4.79],
  labelEnd:mfEnds,labelDy:[3.5,-1,-1.7,-1.7,-1.7,-1.7,-1.7,-2,-1.7,-1.7,-2],lineGap:22.7,tickPad:11,
  xTitle:[453,1647],title:[475,918],
  bar:{x:578,w:30,top:1201.4,bottom:1352,domain:[2.75,4.79],ticks:[3,3.5,4,4.5],labelX:614.6,format:d3.format(".1f"),titleX:568,titleY:1185},
  sizeKey:{titleX:574,titleY:1408,x:593,labelX:615.6,values:[7.5,10,12.5,15],radii:[6.8,9.2,10.4,12],ys:[1435.6,1465.7,1496,1526],format:d3.format(".1f")}
});
var bpEnds=[852,848,845,847,838,849,848,842,846,852,843,855].map(function(v){return 620+v/1.845;});
drawDots({name:"Biological Process",terms:bpTerms,enrich:bpEnrich,count:bpCount,logP:bpLogP,
  box:[1095.3,1280.2,939.7,1581.5],xDomain:[3.054,8.607],xTicks:[4,5,6,7,8],rowTop:971.3,rowBottom:1550.4,
  pDomain:[1.28,2.95,4.6],
  labelEnd:bpEnds,labelDy:[5.6,5.6,5.6,5.6,1.5,5.6,5.6,5.6,5.6,5.6,5.6,5.6],lineGap:23,tickPad:9,
  xTitle:[1195.6,1649.4],title:[1193,918],barSlant:1216.7,
  bar:{x:1295.9,w:29.8,top:1195.3,bottom:1346.3,domain:[1.28,4.6],ticks:[2,3,4],labelX:1335.4,format:d3.format("d"),titleX:1290,titleY:1178.5},
  sizeKey:{titleX:1294.8,titleY:1402,x:1309,labelX:1335,values:[10,20,30,40],radii:[4.9,8.7,10.3,11.6],ys:[1430,1460,1489.7,1520.3],format:d3.format("d")}
});
var ccEnds=[767,771,760,755,760,752,752,765,773,752,757,770,772].map(function(v){return 1380+v/2.136;});
drawDots({name:"Cellular Component",terms:ccTerms,enrich:ccEnrich,count:ccCount,logP:ccLogP,
  box:[1754,1936.2,940.2,1582],xDomain:[2.7,7.187],xTicks:[3,4,5,6,7],rowTop:969.3,rowBottom:1553.5,
  pDomain:[1.29,2.95,4.6],
  labelEnd:ccEnds,labelDy:[7,7,7,7,7,-6,4,11,7,-3,7,-6.6,7],lineGap:22.5,tickPad:10,
  xTitle:[1843.5,1651],title:[1862,918],
  bar:{x:1970,w:30,top:1181,bottom:1332.5,domain:[1.29,4.6],ticks:[2,3,4],labelX:2011,format:d3.format("d"),titleX:1949,titleY:1163},
  sizeKey:{titleX:1968.5,titleY:1387.7,x:1984,labelX:2010.6,values:[8,10,12,14,16,18],radii:[4.7,7.5,8.9,10.3,11.2,12.2],ys:[1416.7,1446.8,1477,1507,1537,1567.8],format:d3.format("d")}
});

// ---------- D: heatmap
function drawHeat() {
  var g=svg.append("g");
  var colA=d3.scaleBand().domain(d3.range(69)).range([257.5,961]);
  var colB=d3.scaleBand().domain(d3.range(23)).range([968,1202]);
  var rowA=d3.scaleBand().domain(d3.range(16)).range([1815.3,2056.7]);
  var rowB=d3.scaleBand().domain(d3.range(16,50)).range([2062.7,2574.3]);
  function cols(s){ return s.replace(/ /g,"").split("|"); }
  function rowScale(r){ return r<16?rowA:rowB; }
  var heat=d3.scaleLinear().domain([-2,0,2]).range(["#8ccabd","#ffffff","#e0472e"]);
  var cells=[];
  heatRows.forEach(function(s,r){
    var p=cols(s);
    p[0].split("").forEach(function(ch,i){ cells.push({r:r,x:colA(i),w:colA.bandwidth(),v:heatLevels[+ch]}); });
    p[1].split("").forEach(function(ch,i){ cells.push({r:r,x:colB(i),w:colB.bandwidth(),v:heatLevels[+ch]}); });
  });
  g.append("g").attr("shape-rendering","crispEdges").selectAll("rect").data(cells).enter().append("rect")
    .attr("x",function(d){return d.x;}).attr("width",function(d){return d.w+0.4;})
    .attr("y",function(d){return rowScale(d.r)(d.r);}).attr("height",function(d){return rowScale(d.r).bandwidth()+0.4;})
    .attr("fill",function(d){return heat(d.v);});
  // annotation tracks
  var trackY=d3.scaleBand().domain(trackNames).range([1706.7,1811.3]).paddingInner(0.1);
  var trackEnd=[243,235,247,241.7,239],trackBase=[1722,1746,1763,1786,1808];
  trackRows.forEach(function(s,t){
    var p=cols(s),tr=g.append("g").attr("shape-rendering","crispEdges");
    [[p[0],colA],[p[1],colB]].forEach(function(part){
      part[0].split("").forEach(function(ch,i){
        tr.append("rect").attr("x",part[1](i)).attr("width",part[1].bandwidth()+0.4)
          .attr("y",trackY(trackNames[t])).attr("height",trackY.bandwidth()).attr("fill",trackColors[ch]);
      });
    });
    addText(g,trackEnd[t],trackBase[t],trackNames[t],29,{anchor:"end"});
  });
  // row labels
  heatTerms.forEach(function(n,r){
    var sc=rowScale(r);
    addText(g,1210,sc(r)+sc.bandwidth()/2+5,"HALLMARK_"+n,14);
  });
  // dendrogram
  var hx=d3.scaleLinear().domain([0,74.3]).range([255,180.8]);
  function walk(node) {
    if(typeof node==="number") { var sc=rowScale(node); return {y:sc(node)+sc.bandwidth()/2,h:0}; }
    var a=walk(node[1]),b=walk(node[2]);
    g.append("path").attr("fill","none").attr("stroke","#111").attr("stroke-width",1.9)
      .attr("d","M"+hx(a.h)+","+a.y+"H"+hx(node[0])+"V"+b.y+"H"+hx(b.h));
    return {y:(a.y+b.y)/2,h:node[0]};
  }
  walk(treeRoot);
  g.append("line").attr("x1",205.7).attr("x2",205.7).attr("y1",1881).attr("y2",2320).attr("stroke","#777").attr("stroke-width",2).attr("stroke-dasharray","5 6");
  // expression bar
  addText(g,1561.7,1873,"expression",28,{bold:true});
  addGradient("heatBar",["#8ccabd","#ffffff","#e0472e"],true);
  g.append("rect").attr("x",1589).attr("y",1898).attr("width",28).attr("height",145).attr("fill","url(#heatBar)");
  var by=d3.scaleLinear().domain([-2,2]).range([2037,1903]);
  [2,1,0,-1,-2].forEach(function(v){
    if(v!==0) {
      g.append("line").attr("x1",1589).attr("x2",1595).attr("y1",by(v)).attr("y2",by(v)).attr("stroke","#fff").attr("stroke-width",1.2);
      g.append("line").attr("x1",1611).attr("x2",1617).attr("y1",by(v)).attr("y2",by(v)).attr("stroke","#fff").attr("stroke-width",1.2);
    }
    addText(g,1623,by(v)+10,v<0?"-"+(-v):String(v),28);
  });
  // annotation legends
  var lx=1732,titleBase=[1872.5,1981.4,2075.4,2169,2308],firstKey=[1898.6,1992.5,2086.4,2180,2319],titleSize=[28,24,28.5,28.5,28.5];
  legendGroups.forEach(function(lg,i){
    addText(g,i===0?1736:lx,titleBase[i],lg.title,titleSize[i],{bold:true});
    lg.keys.forEach(function(k,j){
      var yy=firstKey[i]+j*22.7;
      g.append("rect").attr("x",lx).attr("y",yy).attr("width",26).attr("height",20.7).attr("fill",trackColors[k[1]]);
      addText(g,1766.7,yy+18,k[0],28.8);
    });
  });
}
drawHeat();
</script>
</body>
</html>
